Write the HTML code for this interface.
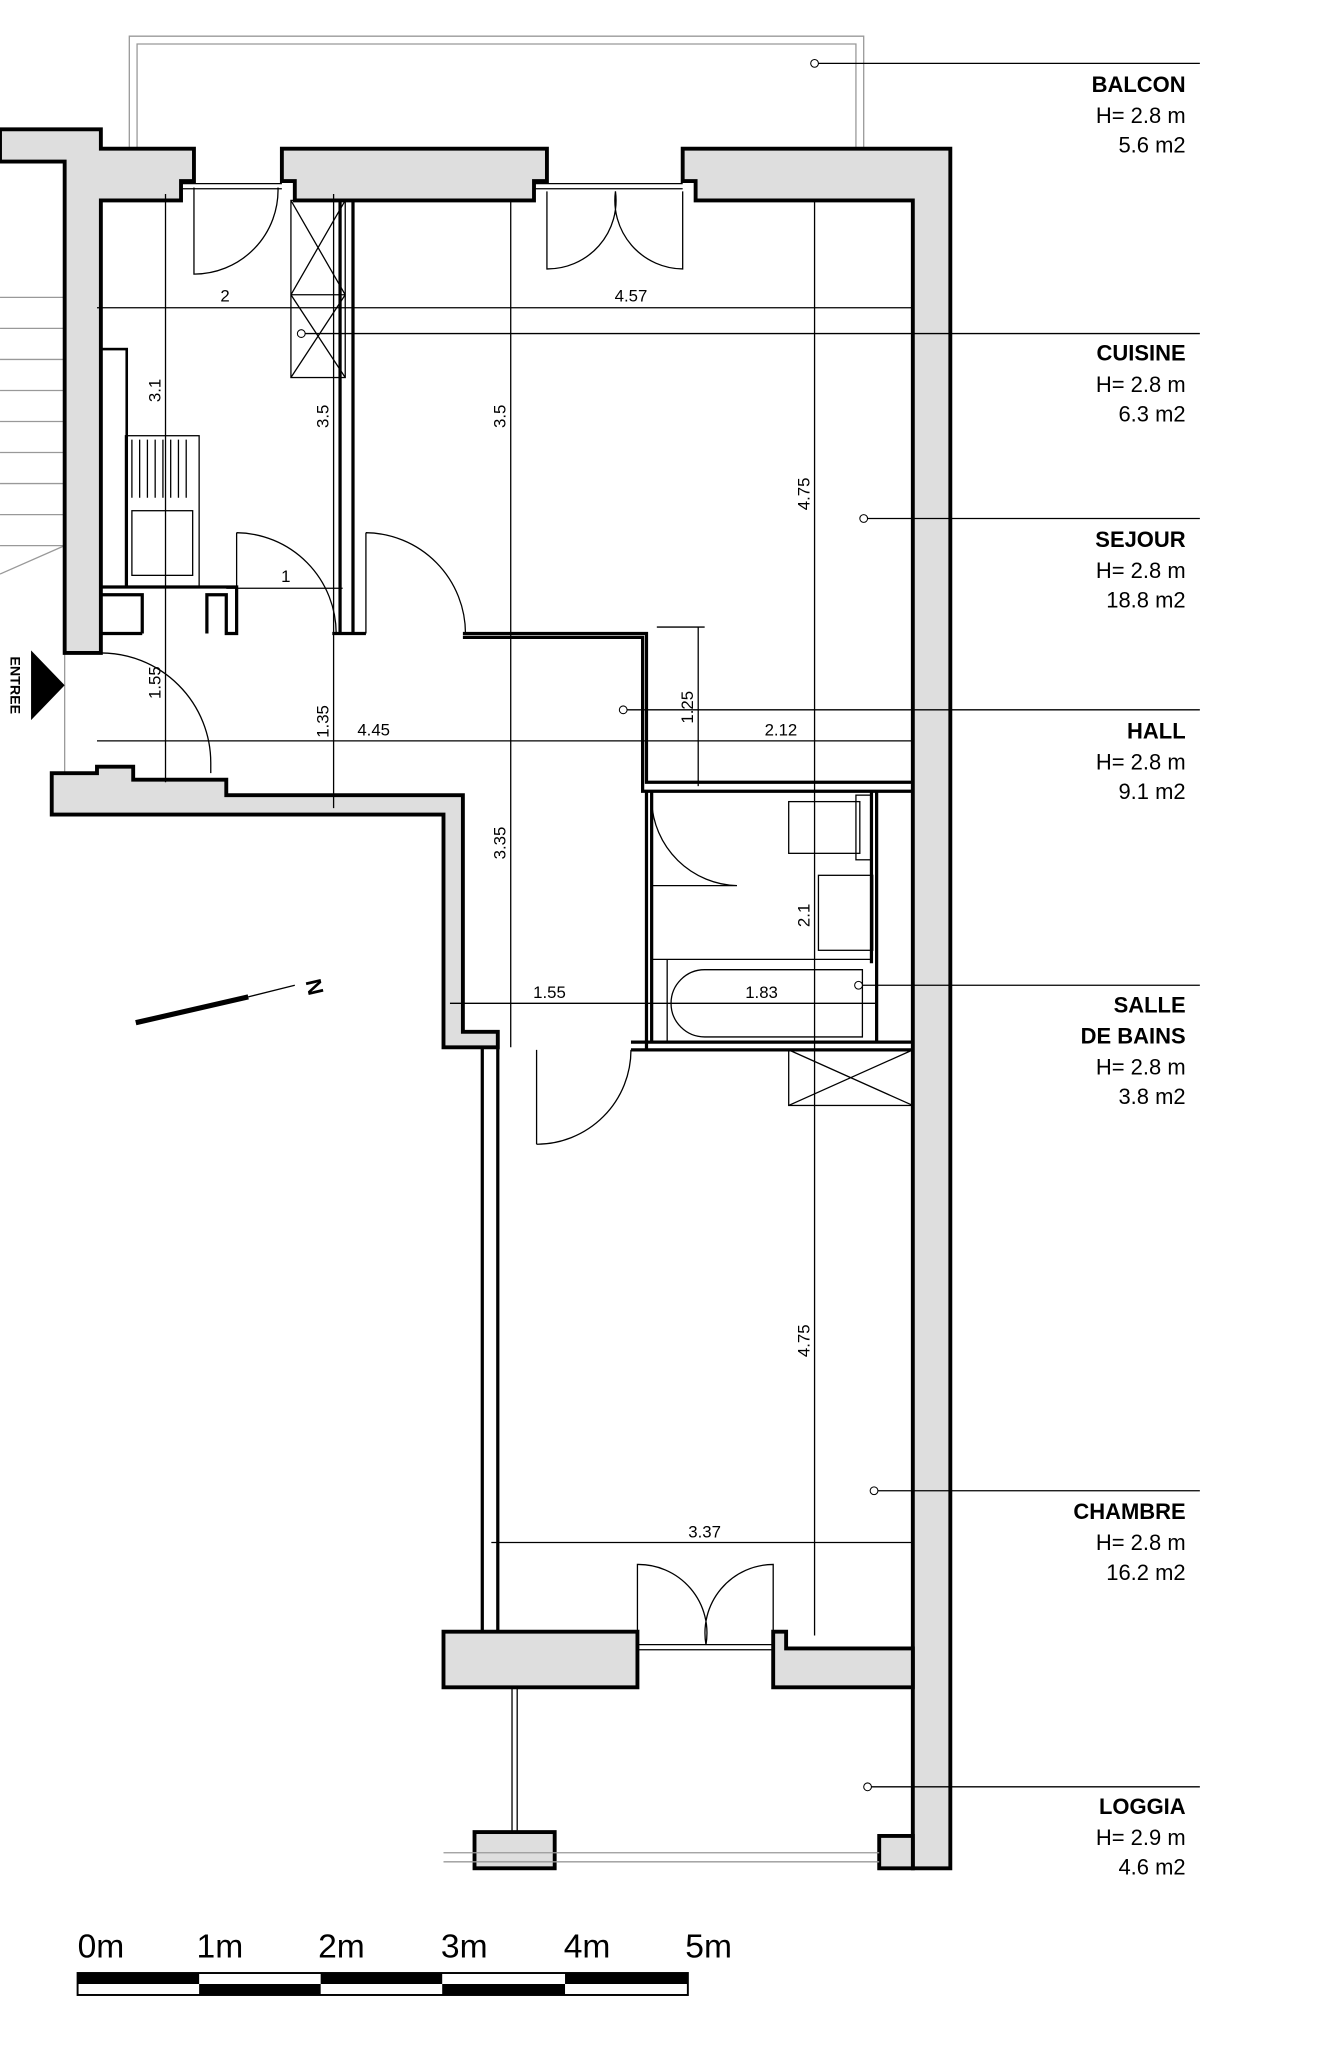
<!DOCTYPE html>
<html><head><meta charset="utf-8"><style>
html,body{margin:0;padding:0;background:#fff}
svg{display:block}
text{font-family:"Liberation Sans",sans-serif;fill:#000}
.w{fill:#dedede;stroke:#000;stroke-width:3}
.t{fill:none;stroke:#000;stroke-width:1}
.m{fill:none;stroke:#000;stroke-width:2.5}
.g{fill:none;stroke:#999;stroke-width:1}
.d{font-size:13px}
.lb{font-size:17px;text-anchor:end}
.b{font-weight:bold}
</style></head><body>
<svg width="1324" height="2048" viewBox="0 0 1024 1584" xmlns="http://www.w3.org/2000/svg">
<!-- balcony -->
<path class="g" d="M100 115V28H668V115M106 115V34H662V115"/>
<!-- stairs -->
<g class="g"><line x1="0" y1="230" x2="50" y2="230"/><line x1="0" y1="254" x2="50" y2="254"/><line x1="0" y1="278" x2="50" y2="278"/><line x1="0" y1="302" x2="50" y2="302"/><line x1="0" y1="326" x2="50" y2="326"/><line x1="0" y1="350" x2="50" y2="350"/><line x1="0" y1="374" x2="50" y2="374"/><line x1="0" y1="398" x2="50" y2="398"/><line x1="0" y1="422" x2="50" y2="422"/><line x1="0" y1="444" x2="50" y2="422"/><line x1="50" y1="505" x2="50" y2="598"/></g>
<!-- walls -->
<polygon class="w" points="0,100 78,100 78,115 150,115 150,140 140,140 140,155 78,155 78,505 50,505 50,125 0,125"/>
<polygon class="w" points="218,115 423,115 423,140 413,140 413,155 228,155 228,140 218,140"/>
<polygon class="w" points="528,115 735,115 735,1445 706,1445 706,155 538,155 538,140 528,140"/>
<polygon class="w" points="40,598 75,598 75,593 103,593 103,603 175,603 175,615 358,615 358,798 385,798 385,810 343,810 343,630 40,630"/>
<polygon class="w" points="343,1262 493,1262 493,1305 343,1305"/>
<polygon class="w" points="598,1262 608,1262 608,1275 706,1275 706,1305 598,1305"/>
<polygon class="w" points="680,1420 706,1420 706,1445 680,1445"/>
<rect class="w" x="367" y="1417" width="62" height="28"/>
<line x1="396" y1="1305" x2="396" y2="1417" stroke="#000" stroke-width="1"/><line x1="400" y1="1305" x2="400" y2="1417" stroke="#000" stroke-width="1"/>
<path class="g" d="M343 1433H680M343 1440H680"/>
<!-- thin walls -->
<g class="m">
<path d="M263 155V490M273 155V490M257 490H283"/>
<path d="M358 490H500V605H706M358 493H497V612H706"/>
<path d="M500 612V685M504 612V685M500 685V812M504 685V805"/>
<path d="M488 806H706M488 812H706"/>
<path d="M78 454H183V490H175V460H160V490M78 460H110V490M78 490H110"/>
<path d="M373 810V1262M385 810V1262"/>
<path d="M678 612V806M674 612V745"/>
</g>
<!-- windows top -->
<path class="t" d="M140 142H218M140 146H218M413 142H528M413 146H528M493 1272H598M493 1276H598"/>
<!-- doors -->
<g class="t">
<path d="M150 145V212A65 65 0 0 0 215 145"/>
<path d="M423 148V208A53 53 0 0 0 476 148M528 148V208A53 53 0 0 1 476 148"/>
<path d="M183 412V490M183 412A78 78 0 0 1 260 490"/>
<path d="M283 412V490M283 412A78 78 0 0 1 360 490"/>
<path d="M78 505A85 85 0 0 1 163 590V598"/>
<path d="M504 685H570A68 68 0 0 1 504 620"/>
<path d="M415 885V812M415 885A73 73 0 0 0 488 812"/>
<path d="M493 1272V1210A53 53 0 0 1 546 1272M598 1272V1210A53 53 0 0 0 546 1272"/>
</g>
<!-- fixtures -->
<g class="t" stroke-width="1.5">
<rect x="225" y="155" width="42" height="137"/><path d="M225 155L267 228M267 155L225 228M225 228H267M225 228L267 292M267 228L225 292"/>
<rect x="78" y="270" width="20" height="184" stroke-width="2"/>
<rect x="97" y="337" width="57" height="117"/><path d="M102 340V385M108 340V385M114 340V385M120 340V385M126 340V385M132 340V385M138 340V385M144 340V385"/><rect x="102" y="395" width="47" height="50"/>
<rect x="610" y="620" width="55" height="40"/><rect x="662" y="615" width="12" height="50"/>
<rect x="633" y="677" width="42" height="58"/>
<path d="M504 742H674M516 742V806"/><path d="M545 750H667V802H545A26 26 0 0 1 545 750Z"/>
<rect x="610" y="812" width="96" height="43"/><path d="M610 812L706 855M706 812L610 855"/>
</g>
<!-- dimension lines -->
<g class="t" stroke-width="0.8">
<line x1="128" y1="150" x2="128" y2="605"/><line x1="258" y1="150" x2="258" y2="625"/><line x1="395" y1="155" x2="395" y2="810"/>
<line x1="630" y1="155" x2="630" y2="1265"/><line x1="540" y1="485" x2="540" y2="608"/>
<line x1="75" y1="238" x2="706" y2="238"/><line x1="75" y1="573" x2="706" y2="573"/>
<line x1="175" y1="455" x2="265" y2="455"/><line x1="348" y1="776" x2="678" y2="776"/>
<line x1="380" y1="1193" x2="706" y2="1193"/>
<line x1="508" y1="485" x2="545" y2="485"/>
<line x1="630" y1="49" x2="928" y2="49"/><line x1="233" y1="258" x2="928" y2="258"/><line x1="668" y1="401" x2="928" y2="401"/><line x1="482" y1="549" x2="928" y2="549"/><line x1="664" y1="762" x2="928" y2="762"/><line x1="676" y1="1153" x2="928" y2="1153"/><line x1="671" y1="1382" x2="928" y2="1382"/>
</g>
<g fill="#fff" stroke="#000" stroke-width="0.8"><circle cx="630" cy="49" r="3"/><circle cx="233" cy="258" r="3"/><circle cx="668" cy="401" r="3"/><circle cx="482" cy="549" r="3"/><circle cx="664" cy="762" r="3"/><circle cx="676" cy="1153" r="3"/><circle cx="671" cy="1382" r="3"/></g>
<!-- dim texts -->
<g class="d">
<text x="174" y="233" text-anchor="middle">2</text><text x="488" y="233" text-anchor="middle">4.57</text>
<text x="221" y="450" text-anchor="middle">1</text><text x="289" y="569" text-anchor="middle">4.45</text><text x="604" y="569" text-anchor="middle">2.12</text>
<text x="425" y="772" text-anchor="middle">1.55</text><text x="589" y="772" text-anchor="middle">1.83</text><text x="545" y="1189" text-anchor="middle">3.37</text>
<text transform="translate(124,302) rotate(-90)" text-anchor="middle">3.1</text>
<text transform="translate(254,322) rotate(-90)" text-anchor="middle">3.5</text>
<text transform="translate(391,322) rotate(-90)" text-anchor="middle">3.5</text>
<text transform="translate(626,382) rotate(-90)" text-anchor="middle">4.75</text>
<text transform="translate(124,528) rotate(-90)" text-anchor="middle">1.55</text>
<text transform="translate(254,558) rotate(-90)" text-anchor="middle">1.35</text>
<text transform="translate(536,547) rotate(-90)" text-anchor="middle">1.25</text>
<text transform="translate(391,652) rotate(-90)" text-anchor="middle">3.35</text>
<text transform="translate(626,708) rotate(-90)" text-anchor="middle">2.1</text>
<text transform="translate(626,1037) rotate(-90)" text-anchor="middle">4.75</text>
</g>
<!-- entree -->
<polygon points="24,503 50,530 24,557" fill="#000"/>
<text transform="translate(8,530) rotate(90)" font-size="11" font-weight="bold" text-anchor="middle">ENTREE</text>
<!-- north -->
<line x1="105" y1="791" x2="192" y2="771" stroke="#000" stroke-width="4"/><line x1="192" y1="771" x2="228" y2="762" stroke="#000" stroke-width="1"/>
<text transform="translate(249,762) rotate(-103)" font-size="17" font-weight="bold" text-anchor="middle">N</text>
<!-- labels -->
<g class="lb">
<text x="917" y="71" class="b">BALCON</text><text x="917" y="95">H= 2.8 m</text><text x="917" y="118">5.6 m2</text>
<text x="917" y="279" class="b">CUISINE</text><text x="917" y="303">H= 2.8 m</text><text x="917" y="326">6.3 m2</text>
<text x="917" y="423" class="b">SEJOUR</text><text x="917" y="447">H= 2.8 m</text><text x="917" y="470">18.8 m2</text>
<text x="917" y="571" class="b">HALL</text><text x="917" y="595">H= 2.8 m</text><text x="917" y="618">9.1 m2</text>
<text x="917" y="783" class="b">SALLE</text><text x="917" y="807" class="b">DE BAINS</text><text x="917" y="831">H= 2.8 m</text><text x="917" y="854">3.8 m2</text>
<text x="917" y="1175" class="b">CHAMBRE</text><text x="917" y="1199">H= 2.8 m</text><text x="917" y="1222">16.2 m2</text>
<text x="917" y="1403" class="b">LOGGIA</text><text x="917" y="1427">H= 2.9 m</text><text x="917" y="1450">4.6 m2</text>
</g>
<!-- scale bar -->
<g font-size="26"><text x="60" y="1514">0m</text><text x="152" y="1514">1m</text><text x="246" y="1514">2m</text><text x="341" y="1514">3m</text><text x="436" y="1514">4m</text><text x="530" y="1514">5m</text></g>
<rect x="60" y="1526" width="472" height="17" fill="#fff" stroke="#000" stroke-width="1.5"/>
<g fill="#000"><rect x="60" y="1526" width="94" height="8.5"/><rect x="248" y="1526" width="94" height="8.5"/><rect x="437" y="1526" width="95" height="8.5"/>
<rect x="154" y="1534.5" width="94" height="8.5"/><rect x="342" y="1534.5" width="95" height="8.5"/></g>
</svg>
</body></html>
